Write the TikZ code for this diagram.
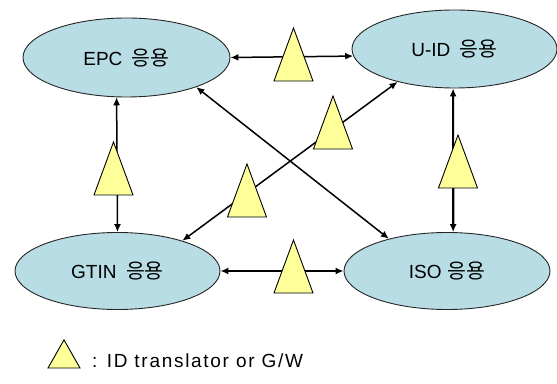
\documentclass[tikz,border=0pt]{standalone}
\usepackage{fontspec}
\setmainfont{Liberation Sans}
\newfontfamily\krfont[Scale=1.08]{Noto Sans CJK KR}
\usetikzlibrary{arrows.meta}
\usetikzlibrary{shapes.geometric}
\definecolor{appblue}{RGB}{184,221,228}
\definecolor{gwyellow}{RGB}{255,255,153}
\tikzset{
    app/.style = {shape=ellipse,draw=black!85,line width=0.9pt,fill=appblue,inner sep=0,
        font=\fontsize{19}{19}\selectfont},
    link/.style = {{Latex[length=8pt,width=7pt]}-{Latex[length=8pt,width=7pt]},line width=1.5pt},
    thicklink/.style = {link,line width=2.2pt},
    gw/.pic = {\draw[line width=0.9pt,fill=gwyellow] (-19.5,0) -- (0,53) -- (19.5,0) -- cycle;}
}

\begin{document}
\begin{tikzpicture}[x=1pt,y=1pt]
    \useasboundingbox (0,0) rectangle (557,383);
    % Applications
    \node[app,minimum width=207pt,minimum height=79pt] (EPC) at (126.5,325.5)
        {EPC\hspace{0.5em}{\krfont 응용}};
    \node[app,minimum width=205pt,minimum height=78pt] (UID) at (454.5,334)
        {U-ID\hspace{0.5em}{\krfont 응용}};
    \node[app,minimum width=205pt,minimum height=77pt] (GTIN) at (117.5,112)
        {GTIN\hspace{0.5em}{\krfont 응용}};
    \node[app,minimum width=206pt,minimum height=77pt] (ISO) at (447,112)
        {ISO\hspace{0.3em}{\krfont 응용}};
    % Links
    \foreach \src/\dest in {EPC.0/UID.184,EPC.337/ISO.151,GTIN.25/UID.210,EPC.256/GTIN.90}
        \draw[link] (\src) -- (\dest);
    \foreach \src/\dest in {GTIN.0/ISO.180,UID.268/ISO.81}
        \draw[thicklink] (\src) -- (\dest);
    % Translators
    \foreach \px/\py in {293.5/302,113.5/188,333/234,247/166,458/195,293.5/90}
        \pic at (\px,\py) {gw};
    % Legend
    \pic[xscale=0.82,yscale=0.53] at (64,15) {gw};
    \node[anchor=base west,inner sep=0,font=\fontsize{19}{19}\selectfont\addfontfeature{LetterSpace=9}]
        (legend) at (92,16) {: ID translator or G/W};
\end{tikzpicture}
\end{document}
